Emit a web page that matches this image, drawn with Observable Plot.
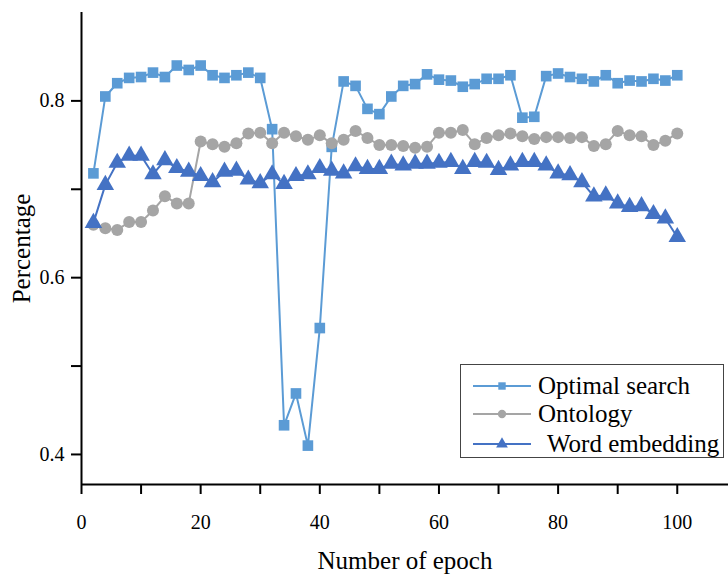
<!DOCTYPE html>
<html>
<head>
<meta charset="utf-8">
<script src="https://cdn.jsdelivr.net/npm/d3@7"></script>
<script src="https://cdn.jsdelivr.net/npm/@observablehq/plot@0.6"></script>
<style>
  html, body { margin: 0; padding: 0; background: #fff; }
  #wrap { position: relative; width: 728px; height: 577px; font-family: "Liberation Serif", "Times New Roman", serif; overflow: hidden; }
  #wrap svg { overflow: visible; }
  #wrap svg [aria-label="y-axis label"] text, #wrap svg [aria-label="x-axis label"] text { font-size: 25px; }
  #legend { position: absolute; left: 460px; top: 364px; width: 264px; height: 94px; border: 1px solid #444; background: #fff; box-sizing: border-box; font-size: 25px; color: #000; }
  #legend .row { position: absolute; left: 12px; height: 30px; display: flex; align-items: center; white-space: nowrap; }
  #legend svg { display: block; }
</style>
</head>
<body>
<div id="wrap"></div>
<script>
const epochs = [2,4,6,8,10,12,14,16,18,20,22,24,26,28,30,32,34,36,38,40,42,44,46,48,50,52,54,56,58,60,62,64,66,68,70,72,74,76,78,80,82,84,86,88,90,92,94,96,98,100];
const optimalSearch = [0.718,0.805,0.820,0.826,0.827,0.832,0.827,0.840,0.835,0.840,0.829,0.826,0.829,0.832,0.826,0.768,0.433,0.469,0.410,0.543,0.748,0.822,0.817,0.791,0.785,0.805,0.817,0.819,0.830,0.824,0.823,0.816,0.819,0.825,0.825,0.829,0.781,0.782,0.828,0.831,0.827,0.825,0.822,0.829,0.820,0.823,0.822,0.825,0.823,0.829];
const ontology = [0.660,0.656,0.654,0.663,0.663,0.676,0.692,0.684,0.684,0.754,0.751,0.748,0.752,0.763,0.764,0.752,0.764,0.760,0.756,0.761,0.752,0.756,0.766,0.758,0.750,0.750,0.749,0.747,0.748,0.764,0.764,0.767,0.751,0.758,0.761,0.763,0.760,0.757,0.759,0.759,0.758,0.759,0.749,0.751,0.766,0.761,0.760,0.750,0.755,0.763];
const wordEmbedding = [0.662,0.705,0.730,0.738,0.738,0.717,0.733,0.724,0.720,0.715,0.708,0.720,0.721,0.711,0.707,0.717,0.706,0.715,0.717,0.724,0.721,0.718,0.726,0.723,0.723,0.729,0.727,0.729,0.729,0.730,0.731,0.723,0.731,0.730,0.722,0.727,0.731,0.731,0.727,0.718,0.716,0.708,0.692,0.693,0.684,0.680,0.681,0.672,0.667,0.646];

const seriesNames = ["Optimal search", "Ontology", "Word embedding"];
const seriesColors = ["#5B9BD5", "#A5A5A5", "#4472C4"];
const seriesSymbols = ["square", "circle", "triangle"];
const seriesRadius = [6, 6, 6.5];
const seriesValues = [optimalSearch, ontology, wordEmbedding];

const yTicks = [0.4, 0.5, 0.6, 0.7, 0.8];
const yLabeled = ["0.4", "0.6", "0.8"];
const xTicks = [0, 10, 20, 30, 40, 50, 60, 70, 80, 90, 100];
const xLabeled = ["0", "20", "40", "60", "80", "100"];

const yMin = 0.366, yMax = 0.9;
const xMin = 0, xMax = 108.6;

const marks = [];
seriesNames.forEach((name, i) => {
  const rows = epochs.map((e, j) => ({epoch: e, value: seriesValues[i][j], series: name}));
  marks.push(Plot.line(rows, {x: "epoch", y: "value", stroke: seriesColors[i], strokeWidth: 2}));
  marks.push(Plot.dot(rows, {x: "epoch", y: "value", symbol: seriesSymbols[i], r: seriesRadius[i], fill: seriesColors[i], stroke: "none"}));
});

const chart = Plot.plot({
  width: 728,
  height: 577,
  marginLeft: 81,
  marginRight: 0,
  marginTop: 12,
  marginBottom: 93,
  style: {fontFamily: "'Liberation Serif', 'Times New Roman', serif", fontSize: "20px", color: "#000", background: "#fff", overflow: "visible"},
  x: {domain: [xMin, xMax]},
  y: {domain: [yMin, yMax]},
  marks: [
    ...marks,
    Plot.axisY({ticks: yTicks, tickSize: 10, tickPadding: 7, strokeWidth: 2, tickFormat: d => { const s = d.toFixed(1); return yLabeled.includes(s) ? s : ""; }, label: "Percentage", labelArrow: "none", labelAnchor: "center", labelOffset: 69, fontSize: 20}),
    Plot.axisX({ticks: xTicks, tickSize: 10, tickPadding: 20, strokeWidth: 2, tickFormat: d => xLabeled.includes(String(d)) ? String(d) : "", label: "Number of epoch", labelArrow: "none", labelAnchor: "center", labelOffset: 84, fontSize: 20}),
    Plot.ruleX([xMin], {stroke: "#000", strokeWidth: 2}),
    Plot.ruleY([yMin], {stroke: "#000", strokeWidth: 2})
  ]
});
document.getElementById("wrap").appendChild(chart);

// Legend
const legend = document.createElement("div");
legend.id = "legend";
const rowTops = [6, 34, 64];
seriesNames.forEach((name, i) => {
  const row = document.createElement("div");
  row.className = "row";
  row.style.top = rowTops[i] + "px";
  const symType = seriesSymbols[i] === "square" ? d3.symbolSquare : seriesSymbols[i] === "circle" ? d3.symbolCircle : d3.symbolTriangle;
  const sym = d3.symbol().type(symType).size(seriesSymbols[i] === "triangle" ? 60 : 55)();
  row.innerHTML = `<svg width="60" height="20"><line x1="0" y1="10" x2="58" y2="10" stroke="${seriesColors[i]}" stroke-width="2"/><path d="${sym}" transform="translate(29,10)" fill="${seriesColors[i]}"/></svg><span style="margin-left:${i === 2 ? 14 : 5}px">${name}</span>`;
  legend.appendChild(row);
});
document.getElementById("wrap").appendChild(legend);
</script>
</body>
</html>
